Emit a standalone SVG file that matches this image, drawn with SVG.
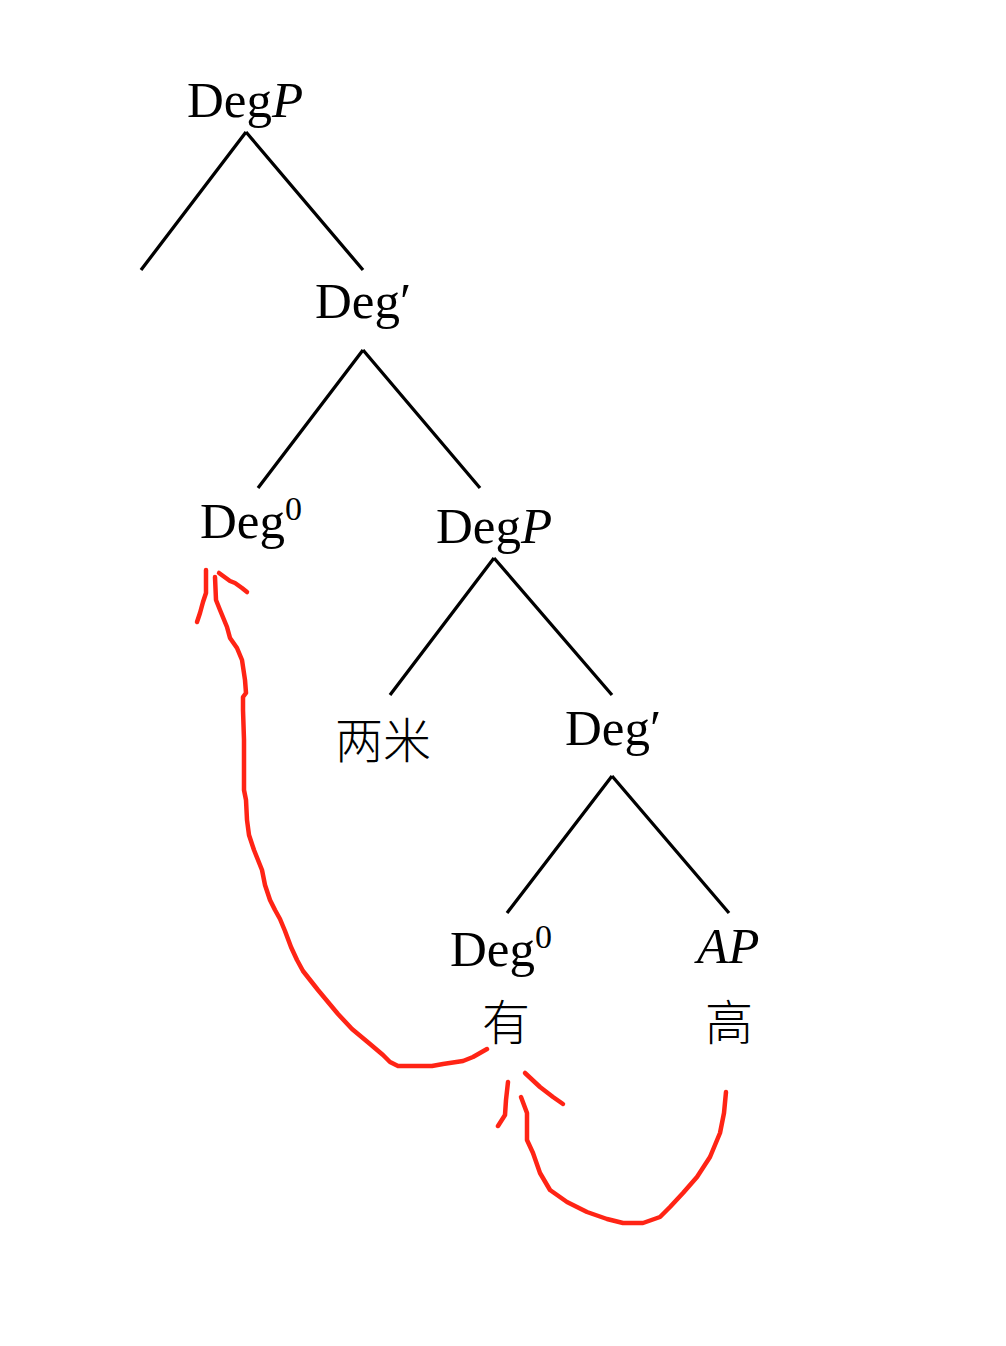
<svg xmlns="http://www.w3.org/2000/svg" width="1006" height="1346" viewBox="0 0 1006 1346">
<style>
.lbl{font-family:"Liberation Serif","DejaVu Serif",serif;font-size:51px;fill:#000}
.it{font-style:italic}
.sup{font-size:34px}
.cjk{font-family:"Noto Sans CJK SC","Noto Sans CJK JP",sans-serif;font-size:48px;fill:#000;font-weight:300}
.edge{stroke:#000;stroke-width:3.3;fill:none;stroke-linecap:butt}
.red{stroke:#ff2415;stroke-width:4.5;fill:none;stroke-linecap:round;stroke-linejoin:round}
</style>
<rect width="1006" height="1346" fill="#fff"/>
<g id="connectors">
<path class="edge" d="M246,132 L141,270 M246,132 L363,270"/>
<path class="edge" d="M363,350 L258,488 M363,350 L480,488"/>
<path class="edge" d="M494,558 L390,695 M494,558 L612,695"/>
<path class="edge" d="M612,776 L507,913 M612,776 L729,913"/>
</g>
<g id="movement">
<path class="red" d="M487,1049 L473,1057 L463,1061 L443,1064 L432,1066 L398,1066 L390,1062 L383,1055 L370,1044 L352,1029 L338,1014 L318,990 L303,971 L297,960 L291,947 L285,931 L280,919 L275,910 L270,900 L265,885 L262,870 L254,850 L249,835 L247,820 L246,800 L244,790 L244,770 L244,740 L243,710 L243,697 L246,693 L245,680 L242,660 L237,648 L230,638 L227,627 L220,610 L216,600 L215,577"/>
<path class="red" d="M206,570 L206,593 L203,602 L200,613 L197,622"/>
<path class="red" d="M219,573 L230,581 L235,583 L242,588 L247,592"/>
<path class="red" d="M726,1092 L724,1113 L720,1133 L710,1157 L697,1177 L683,1193 L670,1207 L660,1217 L643,1223 L623,1223 L607,1219 L587,1212 L567,1202 L550,1190 L540,1173 L533,1153 L527,1140 L527,1113 L521,1097"/>
<path class="red" d="M508,1082 L506,1100 L505,1115 L498,1126"/>
<path class="red" d="M525,1073 L540,1087 L553,1097 L563,1104"/>
</g>
<g id="node-degp-top"><text class="lbl" x="187" y="117">Deg<tspan class="it">P</tspan></text></g>
<g id="node-degbar-top"><text class="lbl" x="315" y="318">Deg′</text></g>
<g id="node-deg0-left"><text class="lbl" x="200" y="538">Deg<tspan class="sup" dy="-18">0</tspan></text></g>
<g id="node-degp-mid"><text class="lbl" x="436" y="543">Deg<tspan class="it">P</tspan></text></g>
<g id="node-liangmi"><text class="cjk" x="335" y="758">两米</text></g>
<g id="node-degbar-low"><text class="lbl" x="565" y="745">Deg′</text></g>
<g id="node-deg0-low"><text class="lbl" x="450" y="966">Deg<tspan class="sup" dy="-18">0</tspan></text></g>
<g id="node-you"><text class="cjk" x="482" y="1040">有</text></g>
<g id="node-ap"><text class="lbl it" x="697" y="963">AP</text></g>
<g id="node-gao"><text class="cjk" x="705" y="1040">高</text></g>
</svg>
